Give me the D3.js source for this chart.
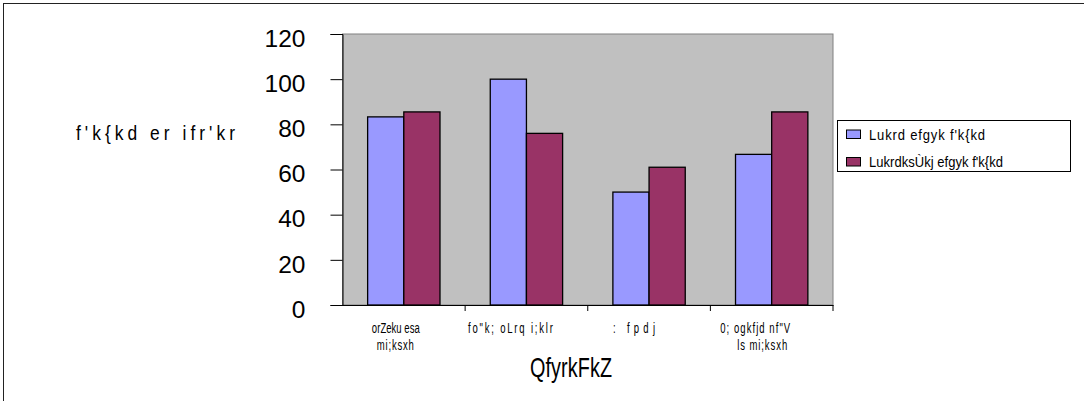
<!DOCTYPE html>
<html><head><meta charset="utf-8">
<script src="https://cdn.jsdelivr.net/npm/d3@7"></script>
<style>body{margin:0;background:#fff}svg{display:block}</style>
</head><body>
<svg id="c" width="1084" height="401"></svg>
<script>
const categories = [["orZeku esa","mi;ksxh"],["fo\"k; oLrq i;klr"],[": fpdj"],["0; ogkfjd nf\"V","ls mi;ksxh"]];
const seriesNames = ["Lukrd efgyk f'k{kd","LukrdksÙkj efgyk f'k{kd"];
const series1 = [83.3, 100, 50, 66.7];
const series2 = [85.5, 76, 61, 85.5];
const yTicks = [0,20,40,60,80,100,120];
const yTitle = "f'k{kd er ifr'kr";
const xTitle = "QfyrkFkZ";
const colors = ["#9999FF","#993366"];

(function(){
const FONT = "'Liberation Sans',Arial,sans-serif";
// layout fitting for the condensed substitute font (width, horizontal offset)
const catFit = [[[48,-8],[37,-8.5]],[[85,-16]],[[42,-15]],[[70,-16.5],[50,-9.5]]];
const legendFit = [116,134];

const svg = d3.select("#c");
function narrowText(parent, x, y, str, size, sx, width, anchor){
  const g = parent.append("g").attr("transform",`translate(${x},${y}) scale(${sx},1)`);
  const t = g.append("text").attr("x",0).attr("y",0).attr("font-family",FONT).attr("font-size",size)
    .attr("fill","#000").attr("text-anchor",anchor||"middle").text(str);
  if(width) t.attr("textLength",width/sx).attr("lengthAdjust","spacing");
  return t;
}

svg.append("rect").attr("x",3.5).attr("y",3.5).attr("width",1090).attr("height",410)
  .attr("fill","#fff").attr("stroke","#222").attr("stroke-width",1);

const pL=342.5, pR=833, pT=34, pB=305;
const x = d3.scaleBand().domain(d3.range(categories.length)).range([pL,pR]).paddingInner(0.41).paddingOuter(0.205);
const x1 = d3.scaleBand().domain([0,1]).range([0,x.bandwidth()]);
const y = d3.scaleLinear().domain([0,120]).range([pB,pT]);

svg.append("rect").attr("x",pL).attr("y",pT).attr("width",pR-pL).attr("height",pB-pT)
  .attr("fill","#C0C0C0").attr("stroke","#808080").attr("stroke-width",1);

const data = [series1, series2];
const g = svg.append("g");
categories.forEach((c,i)=>{
  data.forEach((s,j)=>{
    g.append("rect").attr("x",x(i)+x1(j)).attr("y",y(s[i])).attr("width",x1.bandwidth()).attr("height",pB-y(s[i]))
      .attr("fill",colors[j]).attr("stroke","#000").attr("stroke-width",1.3);
  });
});

const yAxis = d3.axisLeft(y).tickValues(yTicks).tickSize(12).tickPadding(25);
const ya = svg.append("g").attr("transform",`translate(${pL},0)`).call(yAxis);
ya.select(".domain").attr("stroke","#000");
ya.selectAll("line").attr("stroke","#000");
ya.selectAll("text").attr("font-family",FONT).attr("font-size",24.5).attr("fill","#000").attr("dy","0.5em");

const xAxis = d3.axisBottom(x).tickSize(0).tickFormat(()=>"");
const xa = svg.append("g").attr("transform",`translate(0,${pB})`).call(xAxis);
xa.select(".domain").attr("stroke","#000");
const seps = d3.range(1,categories.length+1).map(i=> i<categories.length ? x(i)-x.step()*x.paddingInner()/2 : pR);
svg.selectAll(".sep").data(seps).enter().append("line")
  .attr("x1",d=>d).attr("x2",d=>d).attr("y1",pB).attr("y2",pB+6).attr("stroke","#000");

categories.forEach((c,i)=>{
  c.forEach((line,k)=>{
    const f = catFit[i][k];
    narrowText(svg, x(i)+x.bandwidth()/2+f[1], 333+k*16.5, line, 14, 0.68, f[0]);
  });
});

narrowText(svg, 155.5, 139.5, yTitle, 20.5, 0.85, 159);
narrowText(svg, 571, 377, xTitle, 27.5, 0.72, 82);

const lg = svg.append("g");
lg.append("rect").attr("x",837.5).attr("y",120.5).attr("width",233).attr("height",51)
  .attr("fill","#fff").attr("stroke","#000");
seriesNames.forEach((n,j)=>{
  const cy = 134.5 + j*27.5;
  lg.append("rect").attr("x",846.5).attr("y",cy-4.5).attr("width",14).attr("height",8.5)
    .attr("fill",colors[j]).attr("stroke","#000");
  narrowText(lg, 869, cy+5, n, 15.5, 0.84, legendFit[j], "start");
});
})();
</script>
</body></html>
